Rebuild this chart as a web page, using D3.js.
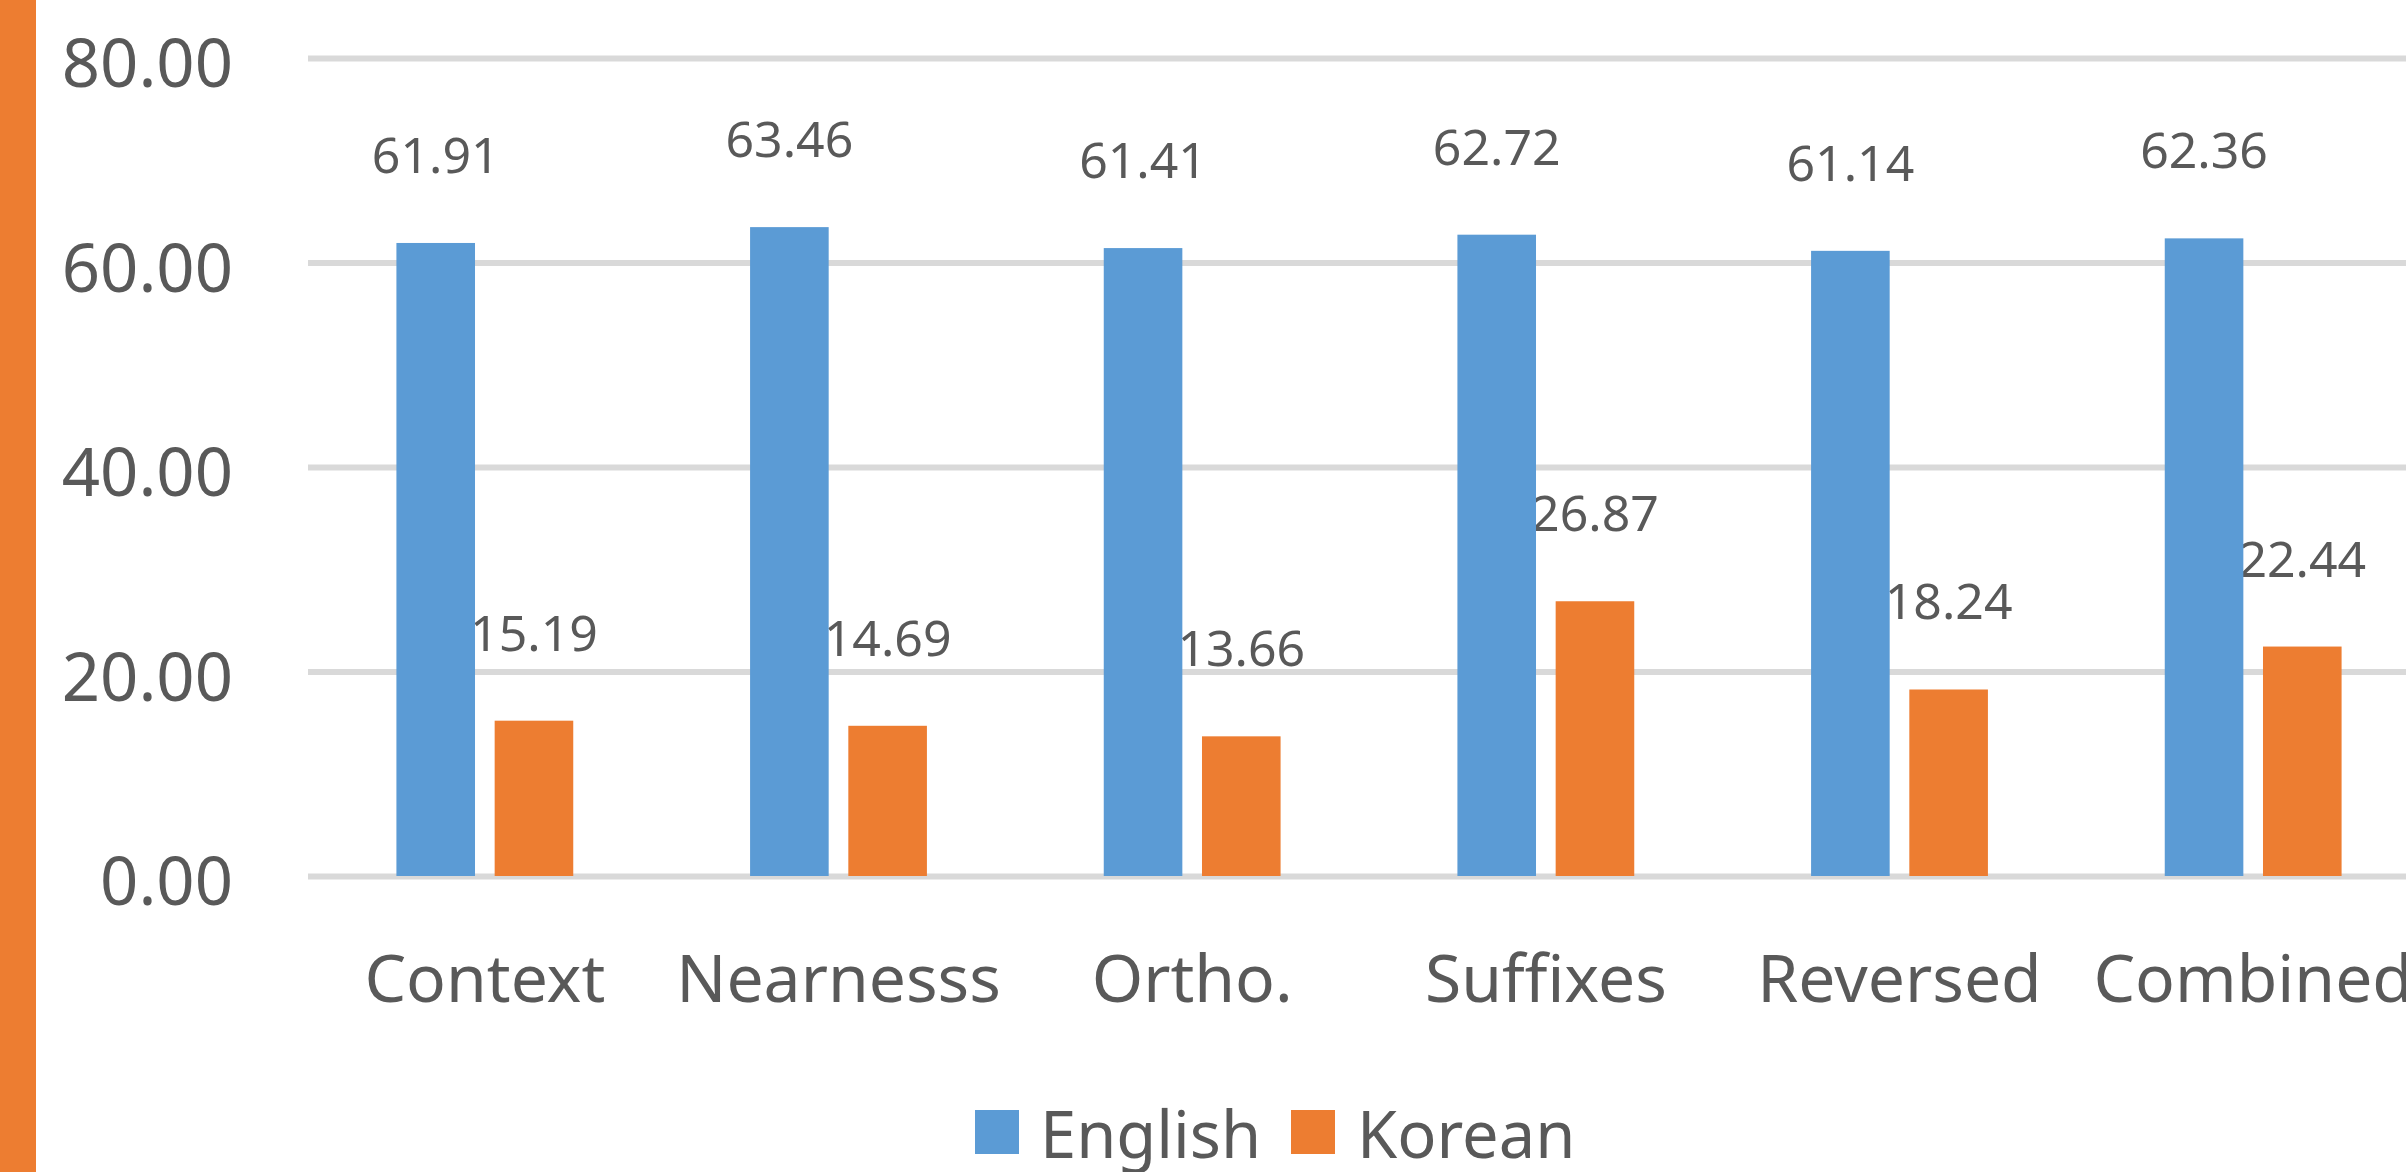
<!DOCTYPE html>
<html>
<head>
<meta charset="utf-8">
<script src="https://cdn.jsdelivr.net/npm/d3@7"></script>
<style>
  html, body { margin: 0; padding: 0; background: #fff; }
  svg { display: block; font-family: 'Noto Sans', 'Open Sans', sans-serif; }
</style>
</head>
<body>
<script>
const categories = ['Context', 'Nearnesss', 'Ortho.', 'Suffixes', 'Reversed', 'Combined']
const seriesNames = ['English', 'Korean']
const englishValues = [61.91, 63.46, 61.41, 62.72, 61.14, 62.36]
const koreanValues = [15.19, 14.69, 13.66, 26.87, 18.24, 22.44]
const yTicks = [0, 20, 40, 60, 80]
const seriesColors = ['#5B9BD5', '#ED7D31']

const buildChart = () => {
  const SIZE = { WIDTH: 2406, HEIGHT: 1172 },
    PLOT = { LEFT: 308, RIGHT: 2430, TOP: 58, BOTTOM: 876 },
    TEXT_COLOR = '#595959'

  const rows = categories.map((c, i) => ({
    category: c,
    values: [
      { key: 'English', value: englishValues[i] },
      { key: 'Korean', value: koreanValues[i] }
    ]
  }))

  const svg = d3.select('body').append('svg')
    .attr('width', SIZE.WIDTH)
    .attr('height', SIZE.HEIGHT)

  svg.append('rect')
    .attr('width', SIZE.WIDTH)
    .attr('height', SIZE.HEIGHT)
    .attr('fill', '#fff')

  // orange strip down the left edge
  svg.append('rect')
    .attr('x', 0)
    .attr('y', 0)
    .attr('width', 36)
    .attr('height', SIZE.HEIGHT)
    .attr('fill', '#ED7D31')

  const x0 = d3.scaleBand()
    .domain(categories)
    .range([PLOT.LEFT, PLOT.RIGHT])
    .paddingInner(0.5)
    .paddingOuter(0.25)

  const x1 = d3.scaleBand()
    .domain(seriesNames)
    .range([0, x0.bandwidth()])
    .paddingInner(0.2)

  const y = d3.scaleLinear()
    .domain([0, 80])
    .range([PLOT.BOTTOM, PLOT.TOP])

  const color = d3.scaleOrdinal()
    .domain(seriesNames)
    .range(seriesColors)

  // y axis with gridlines
  const yAxis = d3.axisLeft(y)
    .tickValues(yTicks)
    .tickFormat(d3.format('.2f'))
    .tickSize(-(SIZE.WIDTH - PLOT.LEFT))
    .tickPadding(75)

  const yG = svg.append('g')
    .attr('transform', `translate(${PLOT.LEFT},0)`)
    .call(yAxis)
  yG.select('.domain').remove()
  yG.selectAll('line')
    .attr('stroke', '#d9d9d9')
    .attr('stroke-width', 6)
  yG.selectAll('text')
    .attr('fill', TEXT_COLOR)
    .attr('font-size', 67)
    .attr('font-family', "'Noto Sans', sans-serif")
    .attr('dy', '0.43em')

  // x axis labels
  const xG = svg.append('g')
    .attr('transform', `translate(0,${PLOT.BOTTOM})`)
    .call(d3.axisBottom(x0).tickSize(0))
  xG.select('.domain').remove()
  xG.selectAll('text')
    .attr('fill', TEXT_COLOR)
    .attr('font-size', 66)
    .attr('font-family', "'Noto Sans', sans-serif")
    .attr('y', 126)
    .attr('dy', 0)

  const groups = svg.append('g')
    .selectAll('g')
    .data(rows)
    .enter()
    .append('g')
    .attr('transform', d => `translate(${x0(d.category)},0)`)

  // value labels (drawn under the bars, as in the original)
  groups.selectAll('text')
    .data(d => d.values)
    .enter()
    .append('text')
    .attr('x', d => x1(d.key) + x1.bandwidth() / 2)
    .attr('y', d => y(d.value) - 70)
    .attr('text-anchor', 'middle')
    .attr('fill', TEXT_COLOR)
    .attr('font-size', 50)
    .text(d => d.value.toFixed(2))

  groups.selectAll('rect')
    .data(d => d.values)
    .enter()
    .append('rect')
    .attr('x', d => x1(d.key))
    .attr('y', d => y(d.value))
    .attr('width', x1.bandwidth())
    .attr('height', d => y(0) - y(d.value))
    .attr('fill', d => color(d.key))

  // legend
  const legendItems = [
    { key: 'English', x: 975, textX: 1040 },
    { key: 'Korean', x: 1291, textX: 1357 }
  ]
  const legend = svg.append('g')
  legend.selectAll('rect')
    .data(legendItems)
    .enter()
    .append('rect')
    .attr('x', d => d.x)
    .attr('y', 1110)
    .attr('width', 44)
    .attr('height', 44)
    .attr('fill', d => color(d.key))
  legend.selectAll('text')
    .data(legendItems)
    .enter()
    .append('text')
    .attr('x', d => d.textX)
    .attr('y', 1158)
    .attr('fill', TEXT_COLOR)
    .attr('font-size', 65)
    .text(d => d.key)
}

document.addEventListener('DOMContentLoaded', buildChart)
</script>
</body>
</html>
